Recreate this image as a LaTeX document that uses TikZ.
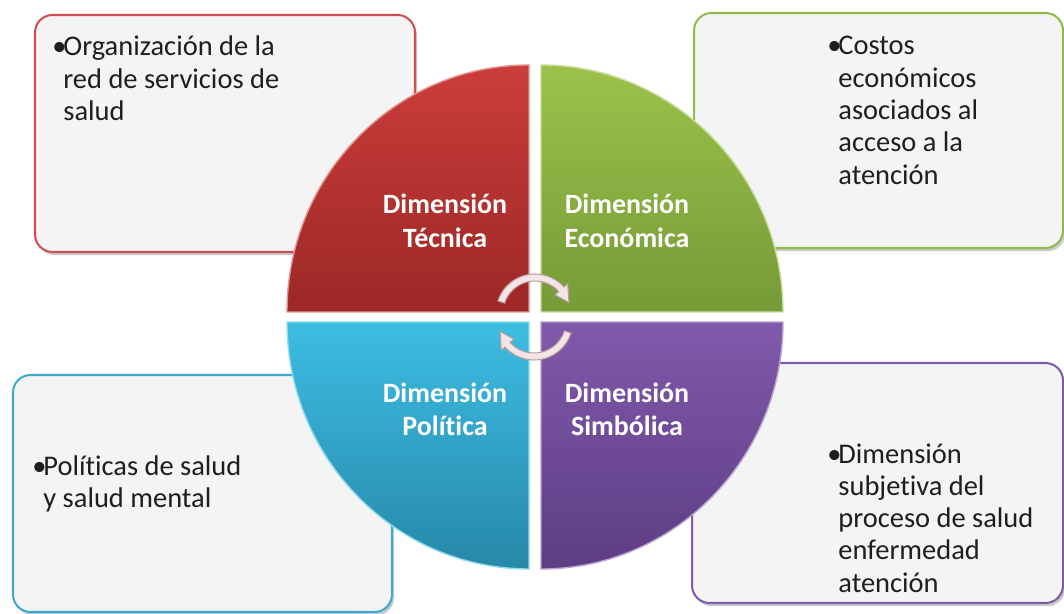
\documentclass[tikz,border=0pt]{standalone}
\usepackage{fontspec}
\setmainfont{Carlito}[Ligatures=NoCommon]
\usetikzlibrary{shadows}
\definecolor{redTop}{HTML}{CB3D3A}
\definecolor{redBot}{HTML}{9C2826}
\definecolor{greenTop}{HTML}{9CC24B}
\definecolor{greenBot}{HTML}{769A37}
\definecolor{blueTop}{HTML}{3DBDE3}
\definecolor{blueBot}{HTML}{2788A9}
\definecolor{purpleTop}{HTML}{8159AB}
\definecolor{purpleBot}{HTML}{5D3D84}
\definecolor{redLine}{HTML}{D04E4F}
\definecolor{greenLine}{HTML}{8EBB4A}
\definecolor{blueLine}{HTML}{3EA8CF}
\definecolor{purpleLine}{HTML}{7D5BA6}
\definecolor{boxFill}{HTML}{F4F4F4}
\definecolor{txt}{HTML}{1E1E1E}
\definecolor{arrowFill}{HTML}{F3E5E5}
\definecolor{arrowLine}{HTML}{B99D9D}
\begin{document}
\begin{tikzpicture}[x=0.02cm,y=-0.02cm,
  infobox/.style={draw=#1, line width=1.15pt, fill=boxFill, rounded corners=10pt,
    drop shadow={shadow xshift=1.2pt, shadow yshift=-1.8pt, opacity=0.35, fill=black!60}},
  quad/.style n args={2}{top color=#1, bottom color=#2, draw=#1!55!white, line width=0.8pt},
  boxtext/.style={anchor=base west, inner sep=0pt, text=txt,
    font=\fontsize{16.2pt}{18.4pt}\selectfont},
  quadlabel/.style={anchor=base, inner sep=0pt, text=white,
    font=\fontsize{15.9pt}{19pt}\selectfont\bfseries},
  cyc/.style={fill=arrowFill, draw=arrowLine, line width=0.6pt}]
\useasboundingbox (0,0) rectangle (1064,614);
\fill[white] (0,0) rectangle (1064,614);
% outer boxes
\path[infobox=redLine] (35,15) rectangle (415,252);
\path[infobox=greenLine] (694,13) rectangle (1063,248);
\path[infobox=blueLine] (13,375) rectangle (392,612);
\path[infobox=purpleLine] (692,363) rectangle (1063,603);
% box texts
\node[boxtext] (tTec) at (52,55.7) {\begin{tabular}[t]{@{}l@{}l@{}}\makebox[6.3pt][l]{•}&Organización de la\\&red de servicios de\\&salud\end{tabular}};
\node[boxtext] (tEco) at (827,55) {\begin{tabular}[t]{@{}l@{}l@{}}\makebox[6.3pt][l]{•}&Costos\\&económicos\\&asociados al\\&acceso a la\\&atención\end{tabular}};
\node[boxtext] (tPol) at (32,475) {\begin{tabular}[t]{@{}l@{}l@{}}\makebox[6.3pt][l]{•}&Políticas de salud\\&y salud mental\end{tabular}};
\node[boxtext] (tSim) at (827,463) {\begin{tabular}[t]{@{}l@{}l@{}}\makebox[6.3pt][l]{•}&Dimensión\\&subjetiva del\\&proceso de salud\\&enfermedad\\&atención\end{tabular}};
% quadrants
\path[quad={redTop}{redBot}] (529,312) -- (287,312) arc[start angle=180,end angle=270,x radius=242,y radius=247] -- cycle;
\path[quad={greenTop}{greenBot}] (541,312) -- (541,65) arc[start angle=270,end angle=360,x radius=242,y radius=247] -- cycle;
\path[quad={purpleTop}{purpleBot}] (541,322) -- (783,322) arc[start angle=0,end angle=90,x radius=242,y radius=247] -- cycle;
\path[quad={blueTop}{blueBot}] (529,322) -- (529,569) arc[start angle=90,end angle=180,x radius=242,y radius=247] -- cycle;
% quadrant labels
\node[quadlabel] (qTec) at (445,214) {\begin{tabular}[t]{@{}c@{}}Dimensión\\Técnica\end{tabular}};
\node[quadlabel] (qEco) at (627,214) {\begin{tabular}[t]{@{}c@{}}Dimensión\\Económica\end{tabular}};
\node[quadlabel] (qPol) at (445,402) {\begin{tabular}[t]{@{}c@{}}Dimensión\\Política\end{tabular}};
\node[quadlabel] (qSim) at (627,402) {\begin{tabular}[t]{@{}c@{}}Dimensión\\Simbólica\end{tabular}};
% circular arrows
\begin{scope}[shift={(535,313)}]
\path[cyc] (198:39) arc[start angle=198,end angle=318,radius=39] -- (318:44) -- (343:35.5) -- (318:27) -- (318:32) arc[start angle=318,end angle=198,radius=32] -- cycle;
\end{scope}
\begin{scope}[shift={(534,321)}]
\path[cyc] (18:39) arc[start angle=18,end angle=138,radius=39] -- (138:44) -- (163:35.5) -- (138:27) -- (138:32) arc[start angle=138,end angle=18,radius=32] -- cycle;
\end{scope}
\end{tikzpicture}
\end{document}
